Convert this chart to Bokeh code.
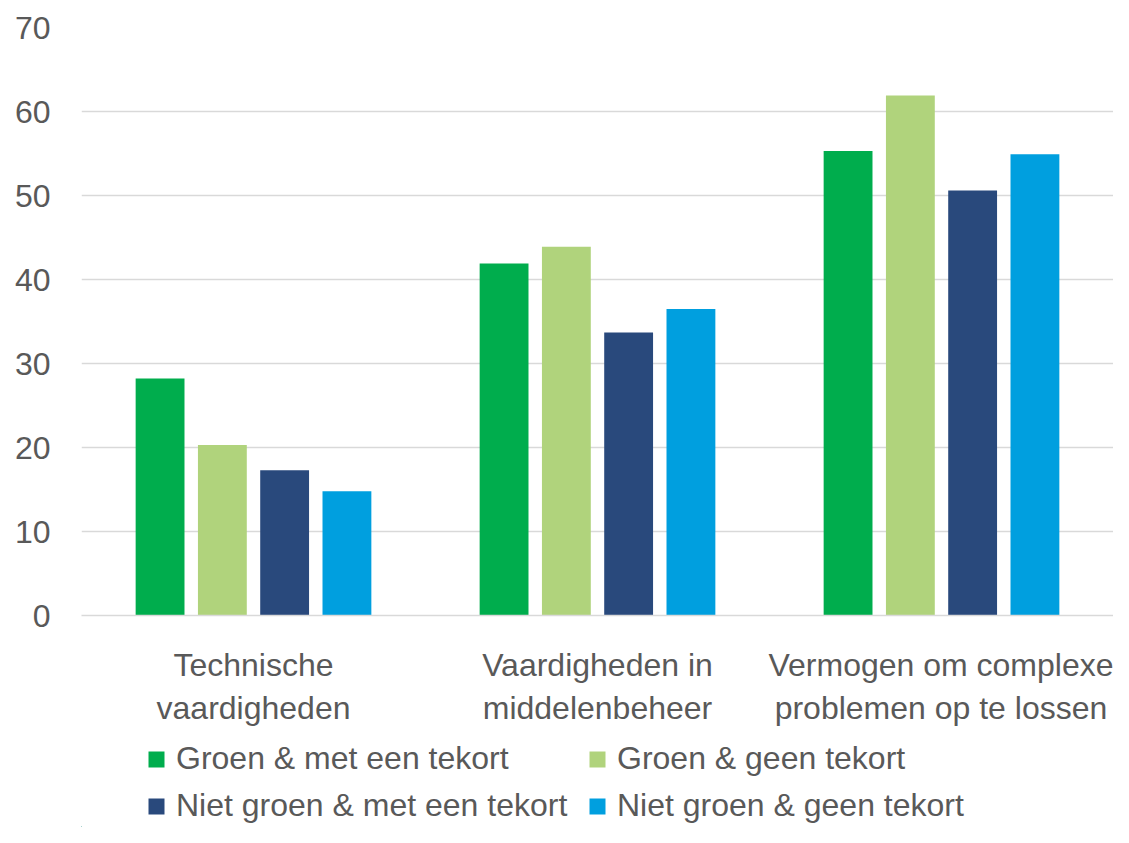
from bokeh.plotting import figure
from bokeh.layouts import column
from bokeh.models import (ColumnDataSource, FactorRange, Range1d, Legend, LegendItem,
                          FixedTicker)
from bokeh.transform import dodge
from bokeh.embed import file_html
from bokeh.resources import INLINE

categories = ["Technische\nvaardigheden", "Vaardigheden in\nmiddelenbeheer",
              "Vermogen om complexe\nproblemen op te lossen"]
series_names = ["Groen & met een tekort", "Groen & geen tekort",
                "Niet groen & met een tekort", "Niet groen & geen tekort"]
groen_tekort = [28.2, 41.9, 55.3]
groen_geen = [20.3, 43.9, 61.9]
niet_groen_tekort = [17.3, 33.7, 50.6]
niet_groen_geen = [14.8, 36.5, 54.9]
y_ticks = [0, 10, 20, 30, 40, 50, 60, 70]

colors = ["#00AD4D", "#B0D37C", "#29497C", "#009FDF"]
offsets = [-0.2716, -0.0905, 0.0905, 0.2716]
TEXT = "#595959"
FONT = "Liberation Sans"

source = ColumnDataSource(dict(cat=categories, s0=groen_tekort, s1=groen_geen,
                               s2=niet_groen_tekort, s3=niet_groen_geen))

# ---- main chart ----
p = figure(x_range=FactorRange(*categories), y_range=Range1d(0, 70),
           width=1113, height=735,
           output_backend="svg", toolbar_location=None,
           min_border_left=81, min_border_right=0, min_border_top=27, min_border_bottom=120)
p.outline_line_color = None

for i, key in enumerate(["s0", "s1", "s2", "s3"]):
    p.vbar(x=dodge("cat", offsets[i], range=p.x_range), top=key, width=0.142,
           source=source, color=colors[i], line_color=None)

p.ygrid.grid_line_color = "#D9D9D9"
p.ygrid.grid_line_width = 1.5
p.xgrid.grid_line_color = None

p.yaxis.ticker = FixedTicker(ticks=y_ticks)
p.yaxis.axis_line_color = None
p.yaxis.major_tick_line_color = None
p.yaxis.minor_tick_line_color = None
p.yaxis.major_label_standoff = 25
p.yaxis.major_label_text_font = FONT
p.yaxis.major_label_text_font_size = "32px"
p.yaxis.major_label_text_color = TEXT

p.xaxis.axis_line_color = "#D9D9D9"
p.xaxis.axis_line_width = 1.5
p.xaxis.major_tick_line_color = None
p.xaxis.minor_tick_line_color = None
p.xaxis.major_label_standoff = 25
p.xaxis.major_label_text_font = FONT
p.xaxis.major_label_text_font_size = "32px"
p.xaxis.major_label_text_color = TEXT
p.xaxis.major_label_text_line_height = 1.2
p.xaxis.major_label_orientation = "horizontal"

# ---- legend strip ----
p2 = figure(width=1113, height=92, x_range=Range1d(0, 1113), y_range=Range1d(0, 92),
            x_axis_type=None, y_axis_type=None, output_backend="svg",
            toolbar_location=None, min_border=0)
p2.outline_line_color = None
p2.grid.visible = False

# off-screen proxy bars so that the legend has glyphs to draw
legend_src = ColumnDataSource(dict(x=[-500], top=[1]))
legend_renderers = [p2.vbar(x="x", top="top", width=1, source=legend_src,
                            color=colors[i], line_color=None) for i in range(4)]

items = [LegendItem(label=series_names[i], renderers=[legend_renderers[i]]) for i in range(4)]
legend = Legend(items=items, orientation="horizontal", ncols=2,
                location=(65, 3), padding=0, margin=0,
                border_line_color=None, background_fill_alpha=0,
                glyph_width=20, glyph_height=20, label_standoff=10, spacing=10,
                label_width=401,
                label_text_font=FONT, label_text_font_size="32px",
                label_text_color=TEXT)
p2.add_layout(legend, "center")

layout = column(p, p2, spacing=0)
open("out.html", "w").write(file_html(layout, INLINE))
